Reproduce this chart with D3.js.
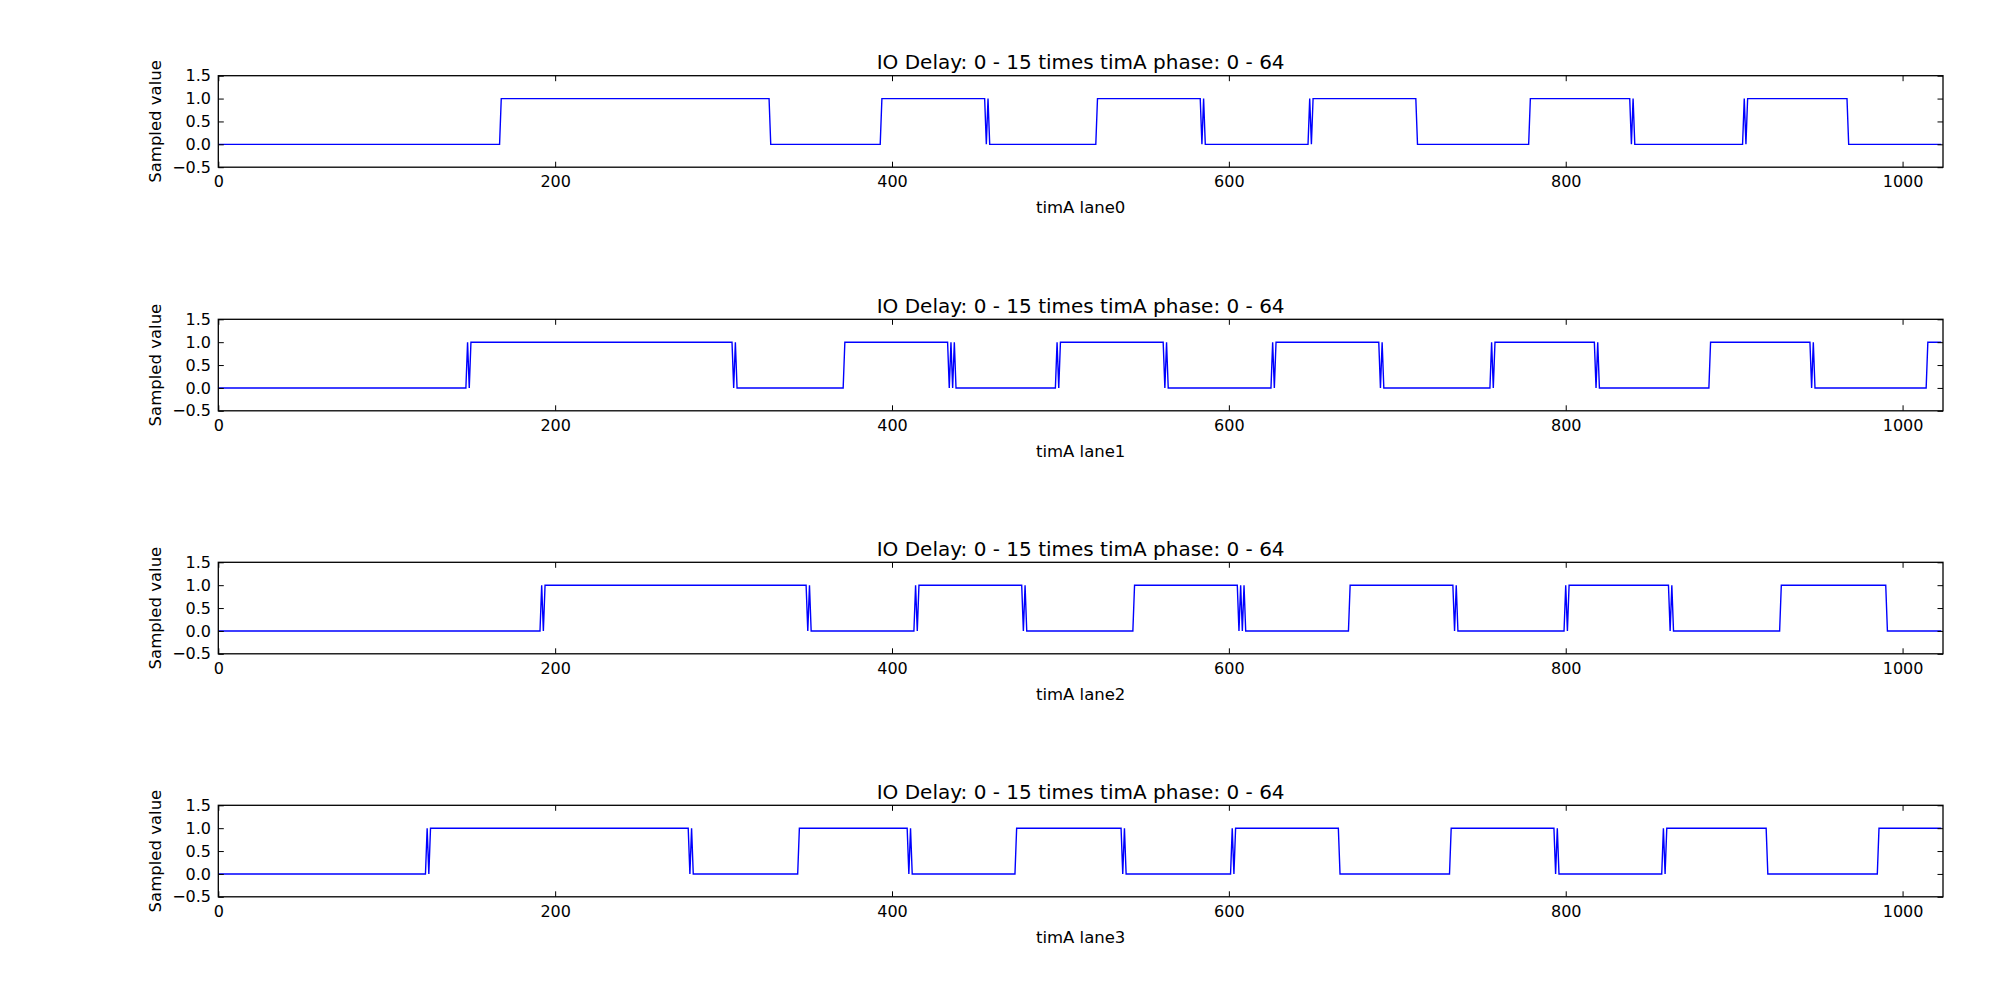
<!DOCTYPE html>
<html>
<head>
<meta charset="utf-8">
<script src="https://cdn.jsdelivr.net/npm/d3@7"></script>
<style>
  html, body { margin: 0; padding: 0; background: #fff; }
  svg text { font-family: "DejaVu Sans", sans-serif; fill: #000; }
</style>
</head>
<body>
<svg id="chart" width="2000" height="1002"></svg>
<script>
// sample indices where the sampled value flips (every lane starts at 0)
var lane0Edges = [168, 328, 394, 456, 457, 458, 522, 584, 585, 586, 648, 649, 650, 712,
                  779, 839, 840, 841, 906, 907, 908, 968];
var lane1Edges = [148, 149, 150, 306, 307, 308, 372, 434, 435, 436, 437, 438, 498, 499, 500,
                  562, 563, 564, 626, 627, 628, 690, 691, 692, 756, 757, 758, 818, 819, 820,
                  886, 946, 947, 948, 1015];
var lane2Edges = [192, 193, 194, 350, 351, 352, 414, 415, 416, 478, 479, 480, 544,
                  606, 607, 608, 609, 610, 672, 734, 735, 736, 800, 801, 802, 862, 863, 864,
                  928, 991];
var lane3Edges = [124, 125, 126, 280, 281, 282, 345, 410, 411, 412, 474, 537, 538, 539,
                  602, 603, 604, 666, 732, 794, 795, 796, 858, 859, 860, 920, 986];

var laneNames = ["timA lane0", "timA lane1", "timA lane2", "timA lane3"];
var laneEdges = [lane0Edges, lane1Edges, lane2Edges, lane3Edges];
var sampleCount = 1024;

var titleText = "IO Delay: 0 - 15 times timA phase: 0 - 64";
var yLabelText = "Sampled value";
var xTicks = [0, 200, 400, 600, 800, 1000];
var yTicks = [-0.5, 0, 0.5, 1, 1.5];

// layout (px)
var plotLeft = 218.3, plotRight = 1943;
var plotTops = [75.7, 319.3, 562.3, 805.3];
var plotHeight = 91.5;
var tickLen = 5.5;

// decode the flip list into one value per sample
function samplesFromEdges(edges) {
    var out = [], v = 0, k = 0;
    for (var i = 0; i < sampleCount; i++) {
        while (k < edges.length && edges[k] === i) { v = 1 - v; k++; }
        out.push([i, v]);
    }
    return out;
}

var svg = d3.select("#chart");

var x = d3.scaleLinear().domain([0, 1024]).range([plotLeft, plotRight]);

laneEdges.forEach(function(edges, li) {
    var top = plotTops[li];
    var y = d3.scaleLinear().domain([-0.5, 1.5]).range([top + plotHeight, top]);
    var g = svg.append("g");

    var clipId = "clip" + li;
    g.append("clipPath").attr("id", clipId)
        .append("rect")
        .attr("x", plotLeft).attr("y", top)
        .attr("width", plotRight - plotLeft).attr("height", plotHeight);

    var line = d3.line()
        .x(function(d) { return x(d[0]); })
        .y(function(d) { return y(d[1]); });

    g.append("path")
        .datum(samplesFromEdges(edges))
        .attr("clip-path", "url(#" + clipId + ")")
        .attr("fill", "none")
        .attr("stroke", "#0000ff")
        .attr("stroke-width", 1.4)
        .attr("stroke-linejoin", "miter")
        .attr("d", line);

    // inward ticks on all four sides, labels only bottom / left
    var axBottom = g.append("g")
        .attr("transform", "translate(0," + (top + plotHeight) + ")")
        .call(d3.axisBottom(x).tickValues(xTicks).tickSizeInner(-tickLen).tickSizeOuter(0)
            .tickPadding(8.4).tickFormat(d3.format("d")));
    var axTop = g.append("g")
        .attr("transform", "translate(0," + top + ")")
        .call(d3.axisTop(x).tickValues(xTicks).tickSizeInner(-tickLen).tickSizeOuter(0)
            .tickFormat(""));
    var axLeft = g.append("g")
        .attr("transform", "translate(" + plotLeft + ",0)")
        .call(d3.axisLeft(y).tickValues(yTicks).tickSizeInner(-tickLen).tickSizeOuter(0)
            .tickPadding(7.3).tickFormat(d3.format(".1f")));
    var axRight = g.append("g")
        .attr("transform", "translate(" + plotRight + ",0)")
        .call(d3.axisRight(y).tickValues(yTicks).tickSizeInner(-tickLen).tickSizeOuter(0)
            .tickFormat(""));

    [axBottom, axTop, axLeft, axRight].forEach(function(a) {
        a.select(".domain").remove();
        a.selectAll("line").attr("stroke", "#000").attr("stroke-width", 1);
        a.selectAll("text")
            .style("font-family", "DejaVu Sans")
            .style("font-size", "16px")
            .attr("fill", "#000");
    });

    g.append("rect")
        .attr("x", plotLeft).attr("y", top)
        .attr("width", plotRight - plotLeft).attr("height", plotHeight)
        .attr("fill", "none")
        .attr("stroke", "#000")
        .attr("stroke-width", 1.3);

    var cx = (plotLeft + plotRight) / 2;

    g.append("text")
        .attr("x", cx).attr("y", top - 6.5)
        .attr("text-anchor", "middle")
        .style("font-size", "20px")
        .text(titleText);

    g.append("text")
        .attr("x", cx).attr("y", top + plotHeight + 45.7)
        .attr("text-anchor", "middle")
        .style("font-size", "16.5px")
        .text(laneNames[li]);

    g.append("text")
        .attr("transform", "translate(160.5," + (top + plotHeight / 2) + ") rotate(-90)")
        .attr("text-anchor", "middle")
        .style("font-size", "16.5px")
        .text(yLabelText);
});
</script>
</body>
</html>
